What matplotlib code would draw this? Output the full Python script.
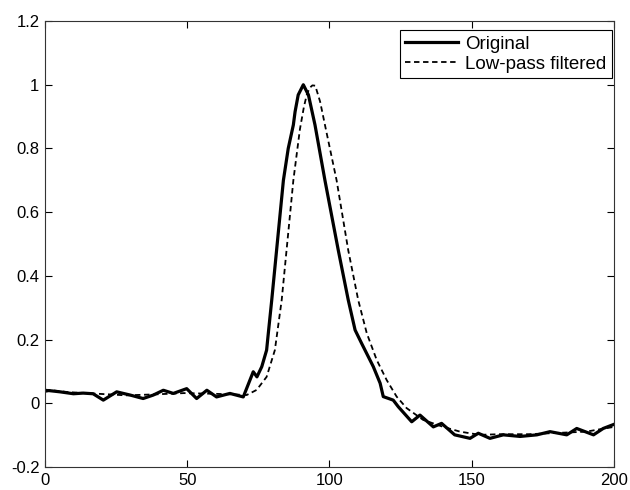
import matplotlib
matplotlib.use('Agg')
import matplotlib.pyplot as plt

plt.rcParams['font.family'] = ['Liberation Sans', 'DejaVu Sans']

# original signal
x_orig = [0, 1.3, 5.3, 10.0, 13.4, 16.9, 20.5, 25.2, 29.9, 34.5, 38.1, 41.6, 45.1, 49.8,
          53.3, 56.9, 60.3, 65.0, 69.7, 73.2, 74.5, 76.2, 77.9, 78.5, 79.7, 81.4, 83.8,
          85.5, 87.3, 87.9, 89.0, 90.8, 92.6, 94.9, 98.4, 103.1, 106.6, 109.0, 111.3,
          115.4, 117.8, 118.9, 122.4, 124.2, 128.9, 131.8, 136.5, 139.4, 144.0, 149.4,
          152.3, 156.4, 161.1, 167.0, 172.9, 177.5, 183.4, 186.9, 192.8, 196.2, 200]
y_orig = [0.038, 0.040, 0.036, 0.030, 0.032, 0.030, 0.010, 0.036, 0.026, 0.015, 0.026,
          0.041, 0.031, 0.046, 0.015, 0.041, 0.020, 0.031, 0.020, 0.099, 0.083, 0.115,
          0.167, 0.220, 0.324, 0.480, 0.700, 0.800, 0.874, 0.915, 0.968, 1.000, 0.968,
          0.874, 0.700, 0.480, 0.324, 0.230, 0.188, 0.115, 0.063, 0.021, 0.010, -0.011,
          -0.058, -0.037, -0.074, -0.063, -0.099, -0.110, -0.094, -0.110, -0.099, -0.104,
          -0.099, -0.089, -0.099, -0.079, -0.099, -0.079, -0.066]

# low-pass filtered signal
x_filt = [0, 8.3, 18.4, 28.6, 38.7, 48.8, 58.9, 66.0, 70.9, 74.4, 77.9, 80.8, 83.2, 84.9,
          87.3, 89.6, 91.0, 92.0, 93.0, 94.0, 95.0, 96.7, 98.4, 102.5, 106.6, 110.1,
          113.1, 116.6, 120.1, 123.6, 127.1, 132.9, 140.0, 145.9, 152.8, 159.9, 170.0,
          180.1, 190.2, 200]
y_filt = [0.043, 0.035, 0.030, 0.025, 0.028, 0.032, 0.030, 0.028, 0.026, 0.042, 0.083,
          0.167, 0.324, 0.480, 0.700, 0.860, 0.930, 0.968, 0.990, 0.998, 0.997, 0.947,
          0.874, 0.700, 0.480, 0.324, 0.220, 0.136, 0.073, 0.021, -0.015, -0.052, -0.074,
          -0.089, -0.099, -0.097, -0.097, -0.093, -0.089, -0.074]

fig = plt.figure(figsize=(6.3, 4.9), dpi=100)
ax = fig.add_axes([0.0714, 0.0469, 0.9032, 0.9102])

ax.plot(x_orig, y_orig, color='black', lw=2.3, label='Original')
ax.plot(x_filt, y_filt, color='black', lw=1.3, ls=(0, (3, 2)), label='Low-pass filtered')

ax.set_xlim(0, 200)
ax.set_ylim(-0.2, 1.2)
ax.set_xticks([0, 50, 100, 150, 200])
ax.set_yticks([-0.2, 0, 0.2, 0.4, 0.6, 0.8, 1, 1.2])
ax.set_yticklabels(['-0.2', '0', '0.2', '0.4', '0.6', '0.8', '1', '1.2'])
ax.tick_params(direction='in', top=True, right=True, labelsize=12, length=5, pad=4)
for sp in ax.spines.values():
    sp.set_color('#333333')

leg = ax.legend(loc='upper right', bbox_to_anchor=(0.9965, 0.9798), borderaxespad=0,
                fontsize=13.5, fancybox=False, handlelength=2.8, handletextpad=0.4,
                borderpad=0.3, labelspacing=0.15, framealpha=1)
leg.get_frame().set_edgecolor('black')
leg.get_frame().set_linewidth(0.8)

fig.savefig('out.png', dpi=100)
